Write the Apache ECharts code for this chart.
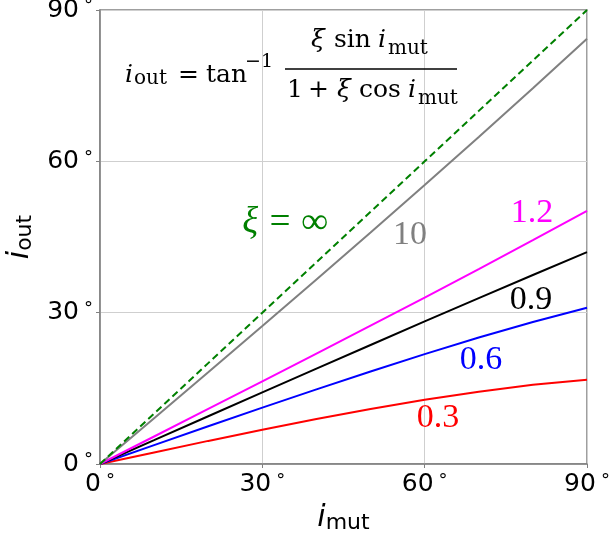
<!DOCTYPE html>
<html>
<head>
<meta charset="utf-8">
<script src="https://cdn.jsdelivr.net/npm/echarts@6/dist/echarts.min.js"></script>
<style>
  html, body { margin: 0; padding: 0; background: #fff; }
  #chart { width: 611px; height: 538px; }
</style>
</head>
<body>
<div id="chart"></div>
<script>
// i_mut sample points (degrees)
const iMut = [0, 10, 20, 30, 40, 50, 60, 70, 80, 90];

// i_out (degrees) for each xi
const xi03 = [0, 2.30, 4.58, 6.79, 8.91, 10.90, 12.73, 14.34, 15.69, 16.70];
const xi06 = [0, 3.75, 7.48, 11.17, 14.80, 18.35, 21.79, 25.07, 28.15, 30.96];
const xi09 = [0, 4.73, 9.47, 14.19, 18.90, 23.59, 28.26, 32.89, 37.47, 41.99];
const xi12 = [0, 5.45, 10.92, 16.40, 21.90, 27.43, 33.00, 38.64, 44.36, 50.19];
const xi10 = [0, 9.09, 18.21, 27.37, 36.59, 45.88, 55.29, 64.81, 74.47, 84.29];
const xiInf = [0, 10, 20, 30, 40, 50, 60, 70, 80, 90];

const ticks = [0, 30, 60, 90];

const pairs = ys => iMut.map((x, k) => [x, ys[k]]);

const SANS = 'DejaVu Sans';
const SERIF = '"Liberation Serif"';
const MATH = '"DejaVu Serif"';

const degRich = {
  n: { fontFamily: SANS, fontSize: 25, color: '#000' },
  d: { fontFamily: SANS, fontSize: 18, color: '#000', verticalAlign: 'top', padding: [0, 0, 0, 5] }
};
const degFmt = v => '{n|' + v + '}{d|°}';

function curve(name, ys, color, dashed) {
  return {
    name: name,
    type: 'line',
    data: pairs(ys),
    symbol: 'none',
    smooth: false,
    silent: true,
    lineStyle: { color: color, width: 2, type: dashed ? [7, 4] : 'solid' },
    z: 3
  };
}

// formula pieces: [text, left x, centre y, font]
const F_MAIN = '25px ' + MATH;
const F_ITAL = 'italic 25px ' + MATH;
const F_SUB = '20px ' + MATH;
const F_SUP = '19px ' + MATH;
const formulaParts = [
  ['i', 125, 75.5, F_ITAL], ['out', 134, 79, F_SUB], ['=', 178, 75.5, F_MAIN],
  ['tan', 206, 75.5, F_MAIN], ['−1', 245, 62, F_SUP],
  ['ξ', 311, 40.5, F_ITAL], ['sin', 334, 40.5, F_MAIN], ['i', 378, 40.5, F_ITAL], ['mut', 388, 49, F_SUB],
  ['1', 287, 90.5, F_MAIN], ['+', 308, 90.5, F_MAIN], ['ξ', 337, 90.5, F_ITAL],
  ['cos', 359, 90.5, F_MAIN], ['i', 408, 90.5, F_ITAL], ['mut', 418, 99, F_SUB]
];
const formulaGraphics = formulaParts.map(p => ({
  type: 'text', x: p[1], y: p[2], z: 10, silent: true,
  style: { text: p[0], font: p[3], fill: '#000', align: 'left', verticalAlign: 'middle' }
}));
formulaGraphics.push({
  type: 'line', z: 10, silent: true,
  shape: { x1: 285, y1: 69, x2: 457, y2: 69 },
  style: { stroke: '#000', lineWidth: 1.5 }
});

// curve labels: [text, centre x, centre y, font, colour]
const curveLabels = [
  ['ξ = ∞', 285, 223, 'italic 37px ' + SERIF, '#008000'],
  ['10', 410, 235, '34px ' + SERIF, '#808080'],
  ['1.2', 532, 213, '34px ' + SERIF, '#ff00ff'],
  ['0.9', 531, 300, '34px ' + SERIF, '#000000'],
  ['0.6', 481, 360, '34px ' + SERIF, '#0000ff'],
  ['0.3', 438, 418, '34px ' + SERIF, '#ff0000']
];
const labelGraphics = curveLabels.map(l => ({
  type: 'text', x: l[1], y: l[2], z: 10, silent: true,
  style: { text: l[0], font: l[3], fill: l[4], align: 'center', verticalAlign: 'middle' }
}));

const chart = echarts.init(document.getElementById('chart'), null, { renderer: 'canvas' });

chart.setOption({
  animation: false,
  backgroundColor: '#fff',
  grid: {
    left: 100, right: 24, top: 10, bottom: 74,
    outerBoundsMode: 'none',
    containLabel: false,
    show: true, borderColor: '#808080', borderWidth: 1.5, backgroundColor: 'transparent'
  },
  xAxis: {
    type: 'value', min: 0, max: 90, interval: 30,
    axisLine: { show: true, lineStyle: { color: '#808080', width: 1.5 } },
    axisTick: { show: true, length: 4, lineStyle: { color: '#808080' } },
    splitLine: { show: true, lineStyle: { color: '#cfcfcf', width: 1 } },
    axisLabel: { margin: 8, formatter: degFmt, rich: degRich, showMinLabel: true, showMaxLabel: true, hideOverlap: false },
    name: '{i|i}{s|mut}',
    nameLocation: 'middle',
    nameGap: 38,
    nameTextStyle: {
      rich: {
        i: { fontFamily: SANS, fontStyle: 'italic', fontSize: 30, color: '#000' },
        s: { fontFamily: SANS, fontSize: 22, color: '#000', verticalAlign: 'bottom', padding: [10, 0, 0, 0] }
      }
    }
  },
  yAxis: {
    type: 'value', min: 0, max: 90, interval: 30,
    axisLine: { show: true, lineStyle: { color: '#808080', width: 1.5 } },
    axisTick: { show: true, length: 4, lineStyle: { color: '#808080' } },
    splitLine: { show: true, lineStyle: { color: '#cfcfcf', width: 1 } },
    axisLabel: { margin: 7, formatter: degFmt, rich: degRich, showMinLabel: true, showMaxLabel: true, hideOverlap: false },
    name: '{i|i}{s|out}',
    nameLocation: 'middle',
    nameRotate: 90,
    nameGap: 58,
    nameTextStyle: {
      rich: {
        i: { fontFamily: SANS, fontStyle: 'italic', fontSize: 30, color: '#000' },
        s: { fontFamily: SANS, fontSize: 22, color: '#000', verticalAlign: 'bottom', padding: [10, 0, 0, 0] }
      }
    }
  },
  series: [
    curve('0.3', xi03, '#ff0000'),
    curve('0.6', xi06, '#0000ff'),
    curve('0.9', xi09, '#000000'),
    curve('1.2', xi12, '#ff00ff'),
    curve('10', xi10, '#808080'),
    curve('inf', xiInf, '#008000', true)
  ],
  graphic: formulaGraphics.concat(labelGraphics)
});
</script>
</body>
</html>
